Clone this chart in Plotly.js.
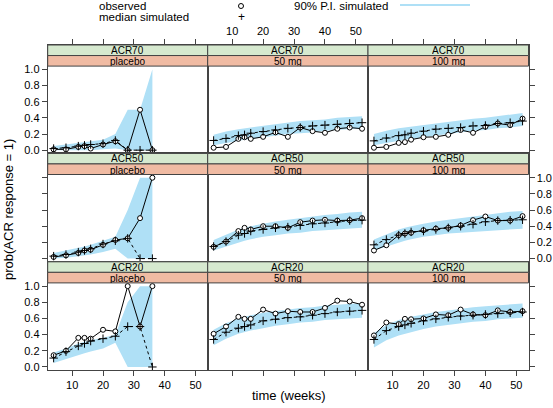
<!DOCTYPE html>
<html>
<head>
<meta charset="utf-8">
<script src="https://cdn.plot.ly/plotly-3.0.1.min.js"></script>
<style>html,body{margin:0;padding:0;background:#fff;}#chart{width:553px;height:408px;}</style>
</head>
<body>
<div id="chart"></div>
<script>
// ---------- DATA ----------
const weeks = [4, 8, 12, 14, 16, 20, 24, 28, 32, 36, 40, 44, 48, 52];
const weeksPlacebo = [4, 8, 12, 14, 16, 20, 24, 28, 32, 36];
const responses = ["ACR70", "ACR50", "ACR20"];
const doses = ["placebo", "50 mg", "100 mg"];
const xTicks = [10, 20, 30, 40, 50];
const yTicks = [0, 0.2, 0.4, 0.6, 0.8, 1.0];
const yTickText = ["0.0", "0.2", "0.4", "0.6", "0.8", "1.0"];

// ACR70
const acr70PlaceboObs = [0.01, 0.01, 0.04, 0.05, 0.02, 0.07, 0.11, 0.0, 0.5, 0.0];
const acr70PlaceboMed = [0.02, 0.03, 0.05, 0.06, 0.07, 0.08, 0.12, 0.0, 0.0, 0.0];
const acr70PlaceboUp  = [0.05, 0.07, 0.09, 0.10, 0.11, 0.13, 0.20, 0.5, 0.5, 1.0];
const acr70PlaceboLo  = [0.0, 0.0, 0.0, 0.0, 0.0, 0.01, 0.02, 0.0, 0.0, 0.0];

const acr70D50Obs = [0.03, 0.04, 0.14, 0.16, 0.14, 0.165, 0.22, 0.165, 0.28, 0.235, 0.215, 0.265, 0.28, 0.265];
const acr70D50Med = [0.12, 0.145, 0.18, 0.19, 0.21, 0.23, 0.25, 0.27, 0.28, 0.30, 0.31, 0.32, 0.33, 0.34];
const acr70D50Up  = [0.19, 0.23, 0.26, 0.27, 0.28, 0.30, 0.32, 0.34, 0.36, 0.37, 0.38, 0.40, 0.41, 0.42];
const acr70D50Lo  = [0.06, 0.09, 0.12, 0.13, 0.14, 0.16, 0.18, 0.20, 0.21, 0.22, 0.24, 0.25, 0.26, 0.27];

const acr70D100Obs = [0.03, 0.04, 0.09, 0.10, 0.13, 0.16, 0.165, 0.19, 0.25, 0.215, 0.29, 0.33, 0.31, 0.39];
const acr70D100Med = [0.115, 0.15, 0.18, 0.19, 0.21, 0.235, 0.26, 0.27, 0.28, 0.30, 0.305, 0.33, 0.34, 0.36];
const acr70D100Up  = [0.20, 0.24, 0.27, 0.28, 0.29, 0.31, 0.33, 0.35, 0.37, 0.39, 0.40, 0.42, 0.44, 0.46];
const acr70D100Lo  = [0.06, 0.09, 0.12, 0.13, 0.14, 0.16, 0.18, 0.20, 0.22, 0.24, 0.25, 0.27, 0.28, 0.30];

// ACR50
const acr50PlaceboObs = [0.02, 0.04, 0.07, 0.10, 0.11, 0.17, 0.23, 0.25, 0.5, 1.0];
const acr50PlaceboMed = [0.03, 0.05, 0.08, 0.10, 0.12, 0.18, 0.22, 0.25, 0.0, 0.0];
const acr50PlaceboUp  = [0.07, 0.10, 0.13, 0.15, 0.17, 0.22, 0.27, 0.60, 1.0, 1.0];
const acr50PlaceboLo  = [0.0, 0.01, 0.03, 0.04, 0.05, 0.08, 0.12, 0.0, 0.0, 0.0];

const acr50D50Obs = [0.145, 0.21, 0.34, 0.38, 0.36, 0.40, 0.40, 0.38, 0.45, 0.47, 0.48, 0.47, 0.475, 0.50];
const acr50D50Med = [0.15, 0.21, 0.29, 0.31, 0.34, 0.36, 0.38, 0.39, 0.41, 0.43, 0.44, 0.455, 0.47, 0.475];
const acr50D50Up  = [0.23, 0.30, 0.36, 0.38, 0.40, 0.43, 0.46, 0.48, 0.50, 0.52, 0.54, 0.55, 0.57, 0.58];
const acr50D50Lo  = [0.10, 0.15, 0.20, 0.22, 0.24, 0.27, 0.29, 0.31, 0.32, 0.34, 0.35, 0.36, 0.37, 0.38];

const acr50D100Obs = [0.10, 0.165, 0.29, 0.31, 0.32, 0.35, 0.37, 0.38, 0.41, 0.475, 0.52, 0.47, 0.47, 0.525];
const acr50D100Med = [0.17, 0.235, 0.29, 0.31, 0.33, 0.34, 0.36, 0.38, 0.40, 0.425, 0.455, 0.47, 0.475, 0.48];
const acr50D100Up  = [0.235, 0.30, 0.36, 0.38, 0.40, 0.43, 0.46, 0.48, 0.50, 0.52, 0.54, 0.56, 0.58, 0.59];
const acr50D100Lo  = [0.10, 0.15, 0.20, 0.22, 0.24, 0.27, 0.29, 0.31, 0.32, 0.33, 0.34, 0.35, 0.36, 0.37];

// ACR20
const acr20PlaceboObs = [0.145, 0.20, 0.36, 0.36, 0.35, 0.46, 0.44, 1.0, 0.5, 1.0];
const acr20PlaceboMed = [0.11, 0.19, 0.26, 0.29, 0.32, 0.35, 0.38, 0.5, 0.5, 0.0];
const acr20PlaceboUp  = [0.18, 0.23, 0.29, 0.31, 0.33, 0.36, 0.40, 0.80, 1.0, 1.0];
const acr20PlaceboLo  = [0.05, 0.10, 0.15, 0.17, 0.19, 0.23, 0.30, 0.0, 0.0, 0.0];

const acr20D50Obs = [0.41, 0.50, 0.62, 0.595, 0.595, 0.71, 0.66, 0.69, 0.68, 0.68, 0.73, 0.82, 0.81, 0.77];
const acr20D50Med = [0.34, 0.43, 0.48, 0.50, 0.52, 0.57, 0.59, 0.61, 0.62, 0.64, 0.66, 0.68, 0.69, 0.70];
const acr20D50Up  = [0.46, 0.54, 0.60, 0.62, 0.64, 0.67, 0.69, 0.71, 0.73, 0.74, 0.76, 0.77, 0.78, 0.79];
const acr20D50Lo  = [0.27, 0.35, 0.41, 0.43, 0.45, 0.48, 0.51, 0.53, 0.55, 0.56, 0.58, 0.59, 0.60, 0.61];

const acr20D100Obs = [0.39, 0.55, 0.53, 0.595, 0.59, 0.60, 0.65, 0.64, 0.71, 0.65, 0.64, 0.70, 0.68, 0.69];
const acr20D100Med = [0.34, 0.45, 0.50, 0.52, 0.54, 0.57, 0.595, 0.615, 0.63, 0.64, 0.65, 0.66, 0.67, 0.68];
const acr20D100Up  = [0.42, 0.52, 0.58, 0.60, 0.62, 0.65, 0.68, 0.70, 0.72, 0.74, 0.75, 0.76, 0.77, 0.785];
const acr20D100Lo  = [0.24, 0.33, 0.39, 0.41, 0.43, 0.47, 0.50, 0.52, 0.54, 0.56, 0.57, 0.59, 0.60, 0.61];

// panels[row][col]
const panels = [
  [[weeksPlacebo, acr70PlaceboObs, acr70PlaceboMed, acr70PlaceboUp, acr70PlaceboLo],
   [weeks, acr70D50Obs, acr70D50Med, acr70D50Up, acr70D50Lo],
   [weeks, acr70D100Obs, acr70D100Med, acr70D100Up, acr70D100Lo]],
  [[weeksPlacebo, acr50PlaceboObs, acr50PlaceboMed, acr50PlaceboUp, acr50PlaceboLo],
   [weeks, acr50D50Obs, acr50D50Med, acr50D50Up, acr50D50Lo],
   [weeks, acr50D100Obs, acr50D100Med, acr50D100Up, acr50D100Lo]],
  [[weeksPlacebo, acr20PlaceboObs, acr20PlaceboMed, acr20PlaceboUp, acr20PlaceboLo],
   [weeks, acr20D50Obs, acr20D50Med, acr20D50Up, acr20D50Lo],
   [weeks, acr20D100Obs, acr20D100Med, acr20D100Up, acr20D100Lo]]
];

// ---------- LAYOUT / STYLE ----------
const W = 553, H = 408;
const px = v => v / W;
const py = v => 1 - v / H;
const FONT = "Liberation Sans, Arial, Helvetica, sans-serif";
const bandColor = "#afe0f6";
const stripGreen = "#d6e9cf";
const stripOrange = "#f0bba3";
const frameColor = "#444";

const colEdges = [47.7, 207.7, 368.0, 528.5];
const rowTops = [45.0, 153.4, 261.8];
const rowH = 108.4;
const stripH = 10.55;
const plotH = rowH - 2 * stripH;
const ppu = plotH / 1.08;
const yMax = 1.04 + (2 * stripH) / ppu;

const traces = [];
const layout = {
  width: W, height: H,
  margin: {l: 0, r: 0, t: 0, b: 0},
  paper_bgcolor: "#fff", plot_bgcolor: "#fff",
  showlegend: false,
  font: {family: FONT, size: 11, color: "#000"},
  shapes: [], annotations: []
};

for (let r = 0; r < 3; r++) {
  for (let c = 0; c < 3; c++) {
    const k = r * 3 + c + 1;
    const xa = "x" + (k === 1 ? "" : k), ya = "y" + (k === 1 ? "" : k);
    const xName = "xaxis" + (k === 1 ? "" : k), yName = "yaxis" + (k === 1 ? "" : k);
    const [xs, obs, med, up, lo] = panels[r][c];

    traces.push({x: xs, y: lo, xaxis: xa, yaxis: ya, type: "scatter", mode: "lines",
      line: {width: 0, color: bandColor}, hoverinfo: "skip"});
    traces.push({x: xs, y: up, xaxis: xa, yaxis: ya, type: "scatter", mode: "lines",
      fill: "tonexty", fillcolor: bandColor, line: {width: 0, color: bandColor}, hoverinfo: "skip"});
    traces.push({x: xs, y: obs, xaxis: xa, yaxis: ya, type: "scatter", mode: "lines+markers",
      line: {color: "#000", width: 1},
      marker: {symbol: "circle", size: 5, color: "#fff", line: {color: "#000", width: 1}}});
    traces.push({x: xs, y: med, xaxis: xa, yaxis: ya, type: "scatter", mode: "lines+markers",
      line: {color: "#000", width: 1, dash: "3px,3px"},
      marker: {symbol: "cross-thin-open", size: 6, color: "#000", line: {color: "#000", width: 1}}});

    const top = rowTops[r];
    layout[xName] = {
      domain: [px(colEdges[c]), px(colEdges[c + 1])],
      range: [2.08, 53.92], anchor: ya,
      showline: true, mirror: true, linecolor: frameColor, linewidth: 1,
      showgrid: false, zeroline: false,
      tickmode: "array", tickvals: xTicks,
      ticks: (r === 1) ? "" : "outside", ticklen: 5, tickcolor: frameColor,
      side: r === 0 ? "top" : "bottom",
      showticklabels: (r === 0 && c === 1) || (r === 2 && c !== 1),
      tickfont: {family: FONT, size: 11, color: "#000"}
    };
    layout[yName] = {
      domain: [py(top + rowH), py(top)],
      range: [-0.04, yMax], anchor: xa,
      showline: true, mirror: true, linecolor: frameColor, linewidth: 1,
      showgrid: false, zeroline: false,
      tickmode: "array", tickvals: yTicks, ticktext: yTickText,
      ticks: (c === 1) ? "" : "outside", ticklen: 5, tickcolor: frameColor,
      side: c === 2 ? "right" : "left",
      showticklabels: (c === 0 && r !== 1) || (c === 2 && r === 1),
      tickfont: {family: FONT, size: 11, color: "#000"}
    };

    // strips
    layout.shapes.push({type: "rect", xref: "paper", yref: "paper", layer: "above",
      x0: px(colEdges[c]), x1: px(colEdges[c + 1]), y0: py(top + stripH), y1: py(top),
      fillcolor: stripGreen, line: {color: frameColor, width: 1}});
    layout.shapes.push({type: "rect", xref: "paper", yref: "paper", layer: "above",
      x0: px(colEdges[c]), x1: px(colEdges[c + 1]), y0: py(top + 2 * stripH), y1: py(top + stripH),
      fillcolor: stripOrange, line: {color: frameColor, width: 1}});
    layout.annotations.push({xref: "paper", yref: "paper", showarrow: false,
      x: px((colEdges[c] + colEdges[c + 1]) / 2), y: py(top + stripH / 2 - 0.4),
      xanchor: "center", yanchor: "middle", text: responses[r], borderpad: 0, height: 10,
      font: {family: FONT, size: 10, color: "#000"}});
    layout.annotations.push({xref: "paper", yref: "paper", showarrow: false,
      x: px((colEdges[c] + colEdges[c + 1]) / 2), y: py(top + 1.5 * stripH + 0.4),
      xanchor: "center", yanchor: "middle", text: doses[c], borderpad: 0, height: 10,
      font: {family: FONT, size: 10, color: "#000"}});
  }
}

// axis titles
layout.annotations.push({xref: "paper", yref: "paper", showarrow: false,
  x: px(289), y: py(395), xanchor: "center", yanchor: "middle",
  text: "time (weeks)", font: {family: FONT, size: 13, color: "#000"}});
layout.annotations.push({xref: "paper", yref: "paper", showarrow: false,
  x: px(9), y: py(210), xanchor: "center", yanchor: "middle", textangle: -90,
  text: "prob(ACR response = 1)", font: {family: FONT, size: 13, color: "#000"}});

// key (legend)
layout.annotations.push({xref: "paper", yref: "paper", showarrow: false,
  x: px(97), y: py(6.5), xanchor: "left", yanchor: "middle",
  text: "observed", font: {family: FONT, size: 11.5, color: "#000"}});
layout.annotations.push({xref: "paper", yref: "paper", showarrow: false,
  x: px(97), y: py(17.5), xanchor: "left", yanchor: "middle",
  text: "median simulated", font: {family: FONT, size: 11.5, color: "#000"}});
layout.annotations.push({xref: "paper", yref: "paper", showarrow: false,
  x: px(292), y: py(6.5), xanchor: "left", yanchor: "middle",
  text: "90% P.I. simulated", font: {family: FONT, size: 11.5, color: "#000"}});
layout.annotations.push({xref: "paper", yref: "paper", showarrow: false,
  x: px(241), y: py(17), xanchor: "center", yanchor: "middle",
  text: "+", font: {family: FONT, size: 12, color: "#000"}});
layout.shapes.push({type: "circle", xref: "paper", yref: "paper",
  x0: px(238.5), x1: px(243.5), y0: py(8.5), y1: py(3.5),
  line: {color: "#000", width: 1}, fillcolor: "rgba(0,0,0,0)"});
layout.shapes.push({type: "line", xref: "paper", yref: "paper",
  x0: px(400), x1: px(470), y0: py(5), y1: py(5),
  line: {color: bandColor, width: 2}});

Plotly.newPlot("chart", traces, layout, {staticPlot: true, displayModeBar: false});
</script>
</body>
</html>
